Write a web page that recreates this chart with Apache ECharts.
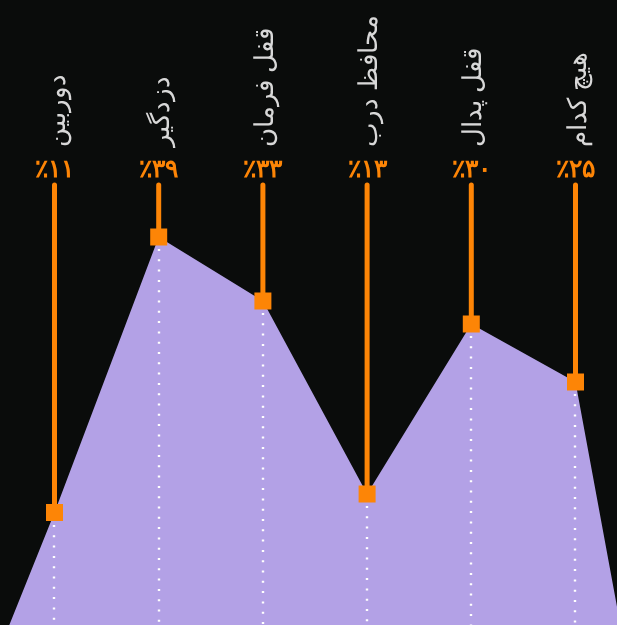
<!DOCTYPE html>
<html>
<head>
<meta charset="utf-8">
<style>
  html, body { margin: 0; padding: 0; background: #0a0c0b; }
  #chart { width: 617px; height: 625px; }
</style>
<script src="https://cdn.jsdelivr.net/npm/echarts@6/dist/echarts.min.js"></script>
</head>
<body>
<div id="chart"></div>
<script>
// داده‌ها
var categories = ['دوربین', 'دزدگیر', 'قفل فرمان', 'محافظ درب', 'قفل پدال', 'هیچ کدام'];
var percentLabels = ['٪۱۱', '٪۳۹', '٪۳۳', '٪۱۳', '٪۳۰', '٪۲۵'];
var values = [11.25, 38.8, 32.4, 13.1, 30.1, 24.3];
// where the area runs off the picture on the left and on the right
var edgeLeft = -14.7;
var edgeRight = -32.1;

var ORANGE = '#fd8506';
var STEM_TOP = 44;    // value where the orange stems start
var NAME_BASE = 48;   // value where the rotated names end

var chart = echarts.init(document.getElementById('chart'));

var axisData = [''].concat(categories, ['']);
var areaData = [edgeLeft].concat(values, [edgeRight]);
var pointData = values.map(function (v, i) { return [i + 1, v]; });

var option = {
	backgroundColor: '#0a0c0b',
	animation: false,
	grid: {
		left: -49.7, top: 0, width: 729.4, height: 1025,
		containLabel: false,
		outerBoundsMode: 'none'
	},
	xAxis: {
		type: 'category',
		data: axisData,
		boundaryGap: false,
		show: false
	},
	yAxis: {
		type: 'value',
		min: -40,
		max: 62.5,
		show: false
	},
	series: [
		{
			type: 'line',
			data: areaData,
			showSymbol: false,
			clip: false,
			lineStyle: { width: 0 },
			areaStyle: { color: '#b3a1e6', opacity: 1, origin: 'start' },
			z: 1
		},
		{
			type: 'custom',
			data: pointData,
			z: 2,
			renderItem: function (params, api) {
				var k = params.dataIndex;
				var p = api.coord([api.value(0), api.value(1)]);
				var top = api.coord([api.value(0), STEM_TOP]);
				var bottom = api.coord([api.value(0), 0]);
				var nameAt = api.coord([api.value(0), NAME_BASE]);
				var x = Math.round(p[0]);
				return {
					type: 'group',
					children: [
						{	// ساقه نارنجی
							type: 'line',
							shape: { x1: p[0], y1: top[1], x2: p[0], y2: p[1] },
							style: { stroke: ORANGE, lineWidth: 5, lineCap: 'round' }
						},
						{	// خط نقطه‌چین
							type: 'line',
							shape: { x1: x, y1: Math.round(p[1]) + 12, x2: x, y2: bottom[1] },
							style: { stroke: '#ffffff', lineWidth: 2.4, lineDash: [2, 8.3] }
						},
						{
							type: 'text',
							x: p[0],
							y: top[1] - 15,
							style: {
								text: percentLabels[k],
								fill: ORANGE,
								font: 'bold 25px sans-serif',
								align: 'center',
								verticalAlign: 'middle'
							}
						},
						{
							type: 'text',
							x: nameAt[0] + 3,
							y: nameAt[1] + 2,
							rotation: Math.PI / 2,
							style: {
								text: categories[k],
								fill: '#d8d8d8',
								font: '26px sans-serif',
								align: 'left',
								verticalAlign: 'middle'
							}
						}
					]
				};
			}
		},
		{
			type: 'scatter',
			data: pointData,
			symbol: 'rect',
			symbolSize: 17,
			itemStyle: { color: ORANGE, opacity: 1 },
			z: 3
		}
	]
};

chart.setOption(option, true);
</script>
</body>
</html>
